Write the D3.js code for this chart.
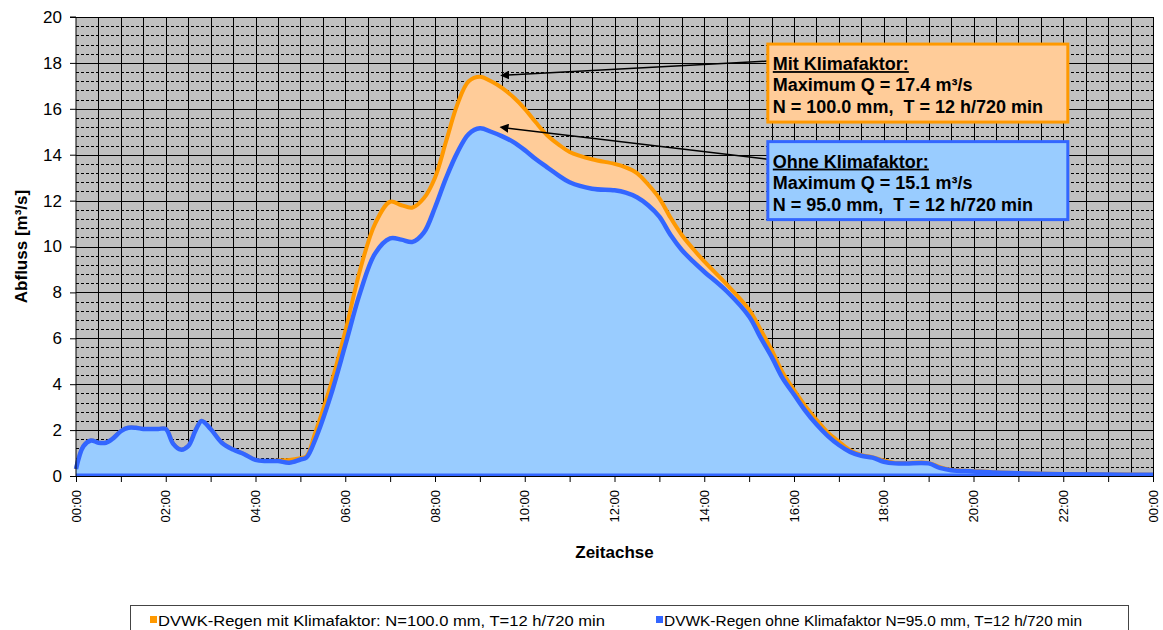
<!DOCTYPE html>
<html>
<head>
<meta charset="utf-8">
<script src="https://cdn.jsdelivr.net/npm/d3@7"></script>
<style>
  body { margin: 0; background: #fff; }
  svg { display: block; font-family: "Liberation Sans", Arial, sans-serif; }
</style>
</head>
<body>
<svg id="chart" width="1163" height="630"></svg>
<script>
// time in minutes since 00:00
var times = [0, 10, 20, 30, 40, 50, 60, 70, 80, 90, 100, 110, 120, 130, 140, 150, 160, 168, 180, 195,
  210, 225, 240, 255, 270, 285, 300, 308, 320, 340, 360, 380, 400, 420, 435, 450, 465, 480, 495,
  510, 525, 540, 555, 570, 585, 600, 615, 630, 645, 660, 690, 720, 735, 750, 765, 780, 795, 810,
  825, 840, 870, 900, 915, 930, 945, 960, 975, 990, 1005, 1020, 1035, 1050, 1065, 1080, 1095,
  1110, 1140, 1155, 1170, 1200, 1230, 1260, 1320, 1380, 1440];

// Abfluss ohne Klimafaktor (N=95 mm)
var ohneKlima = [0.3, 1.3, 1.55, 1.45, 1.45, 1.65, 1.95, 2.1, 2.1, 2.05, 2.05, 2.05, 2.05, 1.4, 1.15, 1.3, 2.0, 2.4, 2.05, 1.45,
  1.15, 0.95, 0.7, 0.65, 0.65, 0.58, 0.72, 0.8, 1.6, 3.45, 5.7, 8.0, 9.7, 10.35, 10.3, 10.2, 10.6, 11.7, 13.0,
  14.1, 14.9, 15.15, 15.0, 14.8, 14.55, 14.2, 13.8, 13.45, 13.1, 12.8, 12.52, 12.45, 12.35, 12.15, 11.8, 11.3, 10.5, 9.85,
  9.35, 8.9, 8.05, 6.95, 6.05, 5.2, 4.25, 3.55, 2.85, 2.25, 1.75, 1.35, 1.05, 0.88, 0.8, 0.62, 0.55,
  0.55, 0.55, 0.35, 0.25, 0.2, 0.15, 0.12, 0.08, 0.06, 0.05];

// Abfluss mit Klimafaktor (N=100 mm)
var mitKlima = [0.3, 1.3, 1.55, 1.45, 1.45, 1.65, 1.95, 2.1, 2.1, 2.05, 2.05, 2.05, 2.05, 1.4, 1.15, 1.3, 2.0, 2.4, 2.05, 1.45,
  1.15, 0.95, 0.7, 0.65, 0.68, 0.7, 0.78, 0.85, 1.9, 3.9, 6.3, 9.0, 11.0, 11.95, 11.8, 11.7, 12.1, 13.0, 14.6,
  16.2, 17.2, 17.4, 17.2, 16.9, 16.5, 16.0, 15.4, 14.85, 14.45, 14.12, 13.8, 13.6, 13.45, 13.2, 12.7, 12.1, 11.25, 10.5,
  9.9, 9.35, 8.35, 7.25, 6.4, 5.5, 4.5, 3.75, 3.05, 2.45, 1.9, 1.5, 1.12, 0.92, 0.82, 0.68, 0.57,
  0.57, 0.57, 0.38, 0.27, 0.22, 0.16, 0.13, 0.09, 0.07, 0.05];

var maxMit = 17.4, maxOhne = 15.1;
var legendLabels = ["DVWK-Regen mit Klimafaktor: N=100.0  mm, T=12  h/720  min",
  "DVWK-Regen ohne Klimafaktor N=95.0  mm, T=12  h/720  min"];

var W = 1163, H = 630;
var margin = { left: 76, right: 10, top: 17, bottom: 154 };
var plotRight = W - margin.right, plotBottom = H - margin.bottom;

var svg = d3.select("#chart");

var x = d3.scaleLinear().domain([0, 1440]).range([margin.left, plotRight]);
var y = d3.scaleLinear().domain([0, 20]).range([plotBottom, margin.top]);

function hhmm(m) {
  var h = Math.floor(m / 60) % 24;
  return (h < 10 ? "0" : "") + h + ":00";
}

// plot background
svg.append("rect")
  .attr("x", x(0)).attr("y", y(20))
  .attr("width", x(1440) - x(0)).attr("height", y(0) - y(20))
  .attr("fill", "#c0c0c0");

// minor horizontal grid (dashed, every 0.4)
var minorY = d3.range(0, 20.01, 0.4).filter(function (v) { return Math.abs(v / 2 - Math.round(v / 2)) > 0.01; });
svg.append("g").selectAll("line").data(minorY).enter().append("line")
  .attr("x1", x(0)).attr("x2", x(1440))
  .attr("y1", function (d) { return Math.round(y(d)) + 0.5; })
  .attr("y2", function (d) { return Math.round(y(d)) + 0.5; })
  .attr("stroke", "#000").attr("stroke-width", 1).attr("stroke-dasharray", "3,2");

// vertical grid every 30 min
svg.append("g").selectAll("line").data(d3.range(30, 1441, 30)).enter().append("line")
  .attr("x1", function (d) { return Math.round(x(d)) + 0.5; })
  .attr("x2", function (d) { return Math.round(x(d)) + 0.5; })
  .attr("y1", y(20)).attr("y2", y(0))
  .attr("stroke", "#000").attr("stroke-width", 1);

// major horizontal grid every 2
svg.append("g").selectAll("line").data(d3.range(2, 20.01, 2)).enter().append("line")
  .attr("x1", x(0)).attr("x2", x(1440))
  .attr("y1", function (d) { return Math.round(y(d)) + 0.5; })
  .attr("y2", function (d) { return Math.round(y(d)) + 0.5; })
  .attr("stroke", "#000").attr("stroke-width", 1);

// areas
var rowsMit = times.map(function (t, i) { return [t, mitKlima[i]]; });
var rowsOhne = times.map(function (t, i) { return [t, ohneKlima[i]]; });

var area = d3.area()
  .x(function (d) { return x(d[0]); })
  .y0(y(0))
  .y1(function (d) { return y(d[1]); })
  .curve(d3.curveCatmullRom.alpha(0.5));
var line = d3.line()
  .x(function (d) { return x(d[0]); })
  .y(function (d) { return y(d[1]); })
  .curve(d3.curveCatmullRom.alpha(0.5));

svg.append("path").datum(rowsMit).attr("d", area).attr("fill", "#ffcc99");
svg.append("path").datum(rowsMit).attr("d", line)
  .attr("fill", "none").attr("stroke", "#ff9900").attr("stroke-width", 4).attr("stroke-linejoin", "round");
svg.append("path").datum(rowsOhne).attr("d", area).attr("fill", "#99ccff");
svg.append("path").datum(rowsOhne).attr("d", line)
  .attr("fill", "none").attr("stroke", "#3366ff").attr("stroke-width", 4.5).attr("stroke-linejoin", "round");
svg.append("line")
  .attr("x1", x(0)).attr("x2", x(1440)).attr("y1", y(0) - 1).attr("y2", y(0) - 1)
  .attr("stroke", "#3366ff").attr("stroke-width", 3);

// axes
var yAxis = d3.axisLeft(y).tickValues(d3.range(0, 20.01, 2)).tickSize(6).tickPadding(8);
var gy = svg.append("g").attr("transform", "translate(" + x(0) + ",0)").call(yAxis);
gy.select(".domain").attr("stroke", "#000").attr("d", "M-6," + y(20) + "H0V" + y(0));
gy.selectAll("text").attr("font-size", 17).attr("fill", "#000")
  .attr("font-family", "Liberation Sans, Arial, sans-serif");

var xAxis = d3.axisBottom(x).tickValues(d3.range(0, 1441, 60)).tickSize(6).tickFormat("");
var gx = svg.append("g").attr("transform", "translate(0," + y(0) + ")").call(xAxis);
gx.select(".domain").attr("stroke", "#000");

svg.append("g").selectAll("text").data(d3.range(0, 1441, 120)).enter().append("text")
  .attr("transform", function (d) { return "translate(" + (x(d) + 4.5) + "," + (y(0) + 14) + ") rotate(-90)"; })
  .attr("text-anchor", "end")
  .attr("font-size", 13)
  .text(hhmm);

// axis titles
svg.append("text")
  .attr("transform", "translate(27," + ((y(0) + y(20)) / 2) + ") rotate(-90)")
  .attr("text-anchor", "middle").attr("font-weight", "bold").attr("font-size", 17)
  .text("Abfluss [m³/s]");
svg.append("text")
  .attr("x", (x(0) + x(1440)) / 2).attr("y", 558)
  .attr("text-anchor", "middle").attr("font-weight", "bold").attr("font-size", 17)
  .text("Zeitachse");

// annotations
var notes = [
  { title: "Mit Klimafaktor:", max: maxMit, n: "100.0", tip: [578, 17.47], from: [925, 18.08], top: 18.82,
    fill: "#ffcc99", stroke: "#ff9900" },
  { title: "Ohne Klimafaktor:", max: maxOhne, n: "95.0", tip: [577, 15.16], from: [925, 13.8], top: 14.57,
    fill: "#99ccff", stroke: "#3366ff" }
];

svg.append("defs").append("marker")
  .attr("id", "arrow").attr("viewBox", "0 0 10 10").attr("refX", 1).attr("refY", 5)
  .attr("markerWidth", 6).attr("markerHeight", 6).attr("orient", "auto-start-reverse")
  .append("path").attr("d", "M0,0 L10,5 L0,10 z").attr("fill", "#000");

notes.forEach(function (n) {
  svg.append("line")
    .attr("x1", x(n.from[0])).attr("y1", y(n.from[1]))
    .attr("x2", x(n.tip[0])).attr("y2", y(n.tip[1]))
    .attr("stroke", "#000").attr("stroke-width", 1.5)
    .attr("marker-end", "url(#arrow)");
  var bx = x(n.from[0]), by = y(n.top);
  svg.append("rect")
    .attr("x", bx).attr("y", by).attr("width", 300).attr("height", 78)
    .attr("fill", n.fill).attr("stroke", n.stroke).attr("stroke-width", 3);
  var t = svg.append("text").attr("font-weight", "bold").attr("font-size", 18).attr("fill", "#000");
  t.append("tspan").attr("x", bx + 5).attr("y", by + 26).attr("text-decoration", "underline").text(n.title);
  t.append("tspan").attr("x", bx + 5).attr("y", by + 47).text("Maximum Q = " + n.max.toFixed(1) + " m³/s");
  t.append("tspan").attr("x", bx + 5).attr("y", by + 69).text("N = " + n.n + " mm,\u00a0 T = 12 h/720 min");
});

// legend
var lg = svg.append("g");
lg.append("rect").attr("x", 130.5).attr("y", 605.5).attr("width", 998).attr("height", 40)
  .attr("fill", "#fff").attr("stroke", "#444");
var legendColors = [["#ff9900", "#ffcc99"], ["#3366ff", "#99ccff"]];
var legendX = [150, 656];
legendLabels.forEach(function (lab, i) {
  lg.append("rect").attr("x", legendX[i]).attr("y", 616).attr("width", 7).attr("height", 7)
    .attr("fill", legendColors[i][0]);
  lg.append("text").attr("x", legendX[i] + 8).attr("y", 626)
    .attr("font-size", 14).attr("font-family", "Liberation Sans Narrow, Arial Narrow, Liberation Sans, sans-serif")
    .attr("textLength", i === 0 ? 447 : 418).attr("lengthAdjust", "spacingAndGlyphs")
    .text(lab);
});
</script>
</body>
</html>
